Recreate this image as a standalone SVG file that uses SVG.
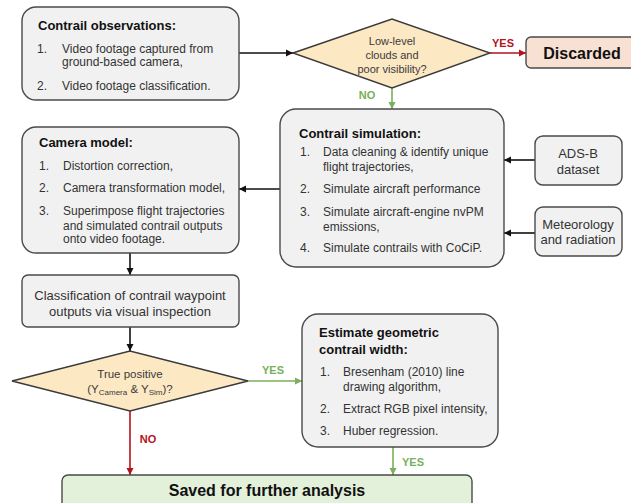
<svg xmlns="http://www.w3.org/2000/svg" width="631" height="503" viewBox="0 0 631 503">
<style>
text{font-family:"Liberation Sans",Arial,sans-serif;fill:#262626}
.box{fill:#f1f1f1;stroke:#4a4a4a;stroke-width:1.4}
.dia{fill:#fde8c4;stroke:#3a3a3a;stroke-width:1.4}
.t{font-size:13px;font-weight:bold;fill:#111}
.b{font-size:12px;fill:#333}
.c{font-size:13px;fill:#333;text-anchor:middle}
.d{font-size:11px;fill:#3a3a3a;text-anchor:middle}
.lab{font-size:11px;font-weight:bold}
.red{fill:#b5121b}
.grn{fill:#79b05a}
.k{stroke:#111;stroke-width:1.6;fill:none}
.r{stroke:#b5121b;stroke-width:1.6;fill:none}
.g{stroke:#79b05a;stroke-width:1.6;fill:none}
</style>
<defs>
<marker id="ak" markerWidth="8" markerHeight="8" refX="7" refY="4" orient="auto" markerUnits="userSpaceOnUse"><path d="M0,0.5 L7,4 L0,7.5 Z" fill="#111"/></marker>
<marker id="ar" markerWidth="8" markerHeight="8" refX="7" refY="4" orient="auto" markerUnits="userSpaceOnUse"><path d="M0,0.5 L7,4 L0,7.5 Z" fill="#b5121b"/></marker>
<marker id="ag" markerWidth="8" markerHeight="8" refX="7" refY="4" orient="auto" markerUnits="userSpaceOnUse"><path d="M0,0.5 L7,4 L0,7.5 Z" fill="#79b05a"/></marker>
</defs>

<g id="connectors">
<line class="k" x1="239" y1="53" x2="293" y2="53" marker-end="url(#ak)"/>
<line class="r" x1="490" y1="53" x2="526" y2="53" marker-end="url(#ar)"/>
<line class="g" x1="392" y1="88" x2="392" y2="109" marker-end="url(#ag)"/>
<line class="k" x1="535" y1="160" x2="504" y2="160" marker-end="url(#ak)"/>
<line class="k" x1="535" y1="233" x2="504" y2="233" marker-end="url(#ak)"/>
<line class="k" x1="280" y1="189" x2="239" y2="189" marker-end="url(#ak)"/>
<line class="k" x1="130" y1="253" x2="130" y2="275" marker-end="url(#ak)"/>
<line class="k" x1="130" y1="327" x2="130" y2="351" marker-end="url(#ak)"/>
<line class="g" x1="248" y1="381" x2="302" y2="381" marker-end="url(#ag)"/>
<line class="r" x1="130" y1="411" x2="130" y2="475" marker-end="url(#ar)"/>
<line class="g" x1="393" y1="447" x2="393" y2="475" marker-end="url(#ag)"/>
<text class="lab red" x="503" y="47" text-anchor="middle">YES</text>
<text class="lab grn" x="367" y="99" text-anchor="middle">NO</text>
<text class="lab grn" x="273" y="374" text-anchor="middle">YES</text>
<text class="lab red" x="148" y="443" text-anchor="middle">NO</text>
<text class="lab grn" x="402" y="466">YES</text>
</g>

<g id="observations">
<rect class="box" x="22" y="7" width="217" height="93" rx="14"/>
<text class="t" x="38" y="30">Contrail observations:</text>
<text class="b" x="37" y="52.5">1.</text>
<text class="b" x="62" y="52.5">Video footage captured from</text>
<text class="b" x="62" y="66">ground-based camera,</text>
<text class="b" x="37" y="90">2.</text>
<text class="b" x="62" y="90">Video footage classification.</text>
</g>

<g id="decision1">
<polygon class="dia" points="293,53 392,19 490,53 392,88"/>
<text class="d" x="392" y="44.5">Low-level</text>
<text class="d" x="392" y="58.5">clouds and</text>
<text class="d" x="392" y="73">poor visibility?</text>
</g>

<g id="discarded">
<rect x="526" y="37" width="110" height="31" rx="5" fill="#f8e0d3" stroke="#4a4a4a" stroke-width="1.4"/>
<text x="582" y="59" text-anchor="middle" style="font-size:16px;font-weight:bold;fill:#111">Discarded</text>
</g>

<g id="simulation">
<rect class="box" x="280" y="109" width="224" height="158" rx="16"/>
<text class="t" x="299" y="138">Contrail simulation:</text>
<text class="b" x="300" y="156">1.</text>
<text class="b" x="323" y="156">Data cleaning &amp; identify unique</text>
<text class="b" x="323" y="171">flight trajectories,</text>
<text class="b" x="300" y="193">2.</text>
<text class="b" x="323" y="193">Simulate aircraft performance</text>
<text class="b" x="300" y="216">3.</text>
<text class="b" x="323" y="216">Simulate aircraft-engine nvPM</text>
<text class="b" x="323" y="231">emissions,</text>
<text class="b" x="300" y="252">4.</text>
<text class="b" x="323" y="252">Simulate contrails with CoCiP.</text>
</g>

<g id="adsb">
<rect class="box" x="535" y="136" width="87" height="49" rx="8"/>
<text class="c" x="578" y="157.5">ADS-B</text>
<text class="c" x="578" y="173.5">dataset</text>
</g>

<g id="meteorology">
<rect class="box" x="535" y="207" width="87" height="49" rx="8"/>
<text class="c" x="578" y="228.5">Meteorology</text>
<text class="c" x="578" y="243.5">and radiation</text>
</g>

<g id="camera">
<rect class="box" x="22" y="127" width="217" height="126" rx="14"/>
<text class="t" x="39" y="147">Camera model:</text>
<text class="b" x="39" y="170">1.</text>
<text class="b" x="63" y="170">Distortion correction,</text>
<text class="b" x="39" y="192">2.</text>
<text class="b" x="63" y="192">Camera transformation model,</text>
<text class="b" x="39" y="215">3.</text>
<text class="b" x="63" y="215">Superimpose flight trajectories</text>
<text class="b" x="63" y="230">and simulated contrail outputs</text>
<text class="b" x="63" y="243">onto video footage.</text>
</g>

<g id="classification">
<rect class="box" x="22" y="275" width="217" height="52" rx="6"/>
<text class="c" x="130" y="299.5">Classification of contrail waypoint</text>
<text class="c" x="130" y="315.5">outputs via visual inspection</text>
</g>

<g id="decision2">
<polygon class="dia" points="12,381 130,351 248,381 130,411"/>
<text class="d" x="130" y="378" style="font-size:11.5px">True positive</text>
<text class="d" x="130" y="393" style="font-size:11.5px">(Y<tspan font-size="8" dy="2">Camera</tspan><tspan dy="-2"> &amp; Y</tspan><tspan font-size="8" dy="2">Sim</tspan><tspan dy="-2">)?</tspan></text>
</g>

<g id="estimate">
<rect class="box" x="302" y="314" width="196" height="133" rx="16"/>
<text class="t" x="319" y="337">Estimate geometric</text>
<text class="t" x="319" y="354">contrail width:</text>
<text class="b" x="320" y="376">1.</text>
<text class="b" x="343" y="376">Bresenham (2010) line</text>
<text class="b" x="343" y="391">drawing algorithm,</text>
<text class="b" x="320" y="413">2.</text>
<text class="b" x="343" y="413">Extract RGB pixel intensity,</text>
<text class="b" x="320" y="435">3.</text>
<text class="b" x="343" y="435">Huber regression.</text>
</g>

<g id="saved">
<rect x="62" y="475" width="410" height="40" rx="6" fill="#e3f0da" stroke="#4a4a4a" stroke-width="1.4"/>
<text x="267" y="496" text-anchor="middle" style="font-size:16px;font-weight:bold;fill:#111">Saved for further analysis</text>
</g>
</svg>
